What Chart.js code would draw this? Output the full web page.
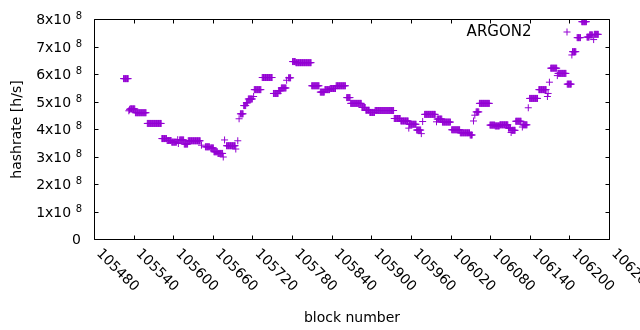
<!DOCTYPE html>
<html><head><meta charset="utf-8">
<script src="https://cdn.jsdelivr.net/npm/chart.js@4/dist/chart.umd.min.js"></script>
<style>html,body{margin:0;padding:0;background:#fff}#c{display:block}</style>
</head><body>
<canvas id="c" width="640" height="330"></canvas>
<script>
// ---- data: runs of blocks sharing one hashrate value ----
const seriesLabel = 'ARGON2';
const runStart = [105524,105532,105533,105534,105542,105560,105582,105590,105597,105606,105607,105609,105616,105622,105642,105648,105656,105661,105667,105675,105677,105680,105694,105697,105699,105701,105706,105710,105713,105721,105722,105734,105751,105759,105763,105771,105774,105780,105785,105809,105822,105829,105837,105846,105862,105868,105885,105891,105897,105905,105934,105944,105956,105957,105968,105975,105977,105980,105998,105999,106007,106021,106034,106049,106054,106056,106058,106063,106079,106087,106094,106107,106111,106112,106118,106128,106129,106137,106139,106153,106166,106167,106169,106171,106181,106182,106196,106203,106204,106211,106218,106226,106230,106236,106237];
const runEnd   = [105531,105532,105533,105541,105558,105581,105589,105596,105604,105606,105607,105615,105621,105640,105642,105654,105660,105666,105674,105675,105677,105693,105694,105697,105699,105705,105709,105712,105719,105721,105732,105749,105758,105762,105770,105771,105777,105784,105808,105820,105828,105836,105845,105860,105867,105884,105890,105896,105904,105933,105943,105955,105956,105967,105974,105975,105977,105996,105998,106006,106019,106033,106048,106052,106054,106056,106062,106078,106086,106093,106106,106110,106111,106117,106126,106128,106135,106137,106151,106164,106166,106167,106169,106180,106181,106194,106202,106203,106209,106216,106225,106229,106234,106236,106243];
const runValue = [5.85e8,4.68e8,4.72e8,4.75e8,4.61e8,4.22e8,3.67e8,3.60e8,3.54e8,3.63e8,3.49e8,3.62e8,3.47e8,3.59e8,3.43e8,3.37e8,3.33e8,3.19e8,3.13e8,3.00e8,3.62e8,3.41e8,3.29e8,3.59e8,4.39e8,4.57e8,4.87e8,4.97e8,5.11e8,5.20e8,5.45e8,5.89e8,5.31e8,5.41e8,5.51e8,5.79e8,5.88e8,6.47e8,6.43e8,5.59e8,5.36e8,5.45e8,5.49e8,5.59e8,5.16e8,4.95e8,4.80e8,4.70e8,4.62e8,4.69e8,4.40e8,4.31e8,4.05e8,4.19e8,3.98e8,3.85e8,4.29e8,4.55e8,4.28e8,4.38e8,4.27e8,3.99e8,3.88e8,3.80e8,4.31e8,4.52e8,4.64e8,4.95e8,4.16e8,4.13e8,4.17e8,4.05e8,3.89e8,3.97e8,4.30e8,4.09e8,4.17e8,4.79e8,5.13e8,5.45e8,5.20e8,5.31e8,5.72e8,6.23e8,5.96e8,6.04e8,5.65e8,6.71e8,6.83e8,7.34e8,7.92e8,7.36e8,7.44e8,7.27e8,7.46e8];
const xTickValues = [105480,105540,105600,105660,105720,105780,105840,105900,105960,106020,106080,106140,106200,106260];
const yTickValues = [0,1e8,2e8,3e8,4e8,5e8,6e8,7e8,8e8];
const yTickBase = ['0','1x10','2x10','3x10','4x10','5x10','6x10','7x10','8x10'];
const yTickExp  = ['','8','8','8','8','8','8','8','8'];
const xTitle = 'block number';
const yTitle = 'hashrate [h/s]';

const points = [];
runStart.forEach((s, i) => { for (let b = s; b <= runEnd[i]; b++) points.push({x: b, y: runValue[i]}); });

const FONT = 'DejaVu Sans';
const COLOR = '#9400d3';
Chart.defaults.font.family = FONT;
Chart.defaults.font.size = 14;
Chart.defaults.color = '#000';

const crisp = v => Math.round(v - 0.5) + 0.5;

const gnuplotFrame = {
  id: 'gnuplotFrame',
  afterDraw(chart) {
    const {ctx, chartArea: a, scales: {x, y}} = chart;
    ctx.save();
    ctx.strokeStyle = '#000';
    ctx.lineWidth = 1;
    ctx.beginPath();
    ctx.rect(a.left, a.top, a.right - a.left, a.bottom - a.top);
    xTickValues.forEach(v => {
      const px = crisp(x.getPixelForValue(v));
      ctx.moveTo(px, a.bottom); ctx.lineTo(px, a.bottom - 4);
      ctx.moveTo(px, a.top); ctx.lineTo(px, a.top + 4);
    });
    yTickValues.forEach(v => {
      const py = crisp(y.getPixelForValue(v));
      ctx.moveTo(a.left, py); ctx.lineTo(a.left + 4, py);
      ctx.moveTo(a.right, py); ctx.lineTo(a.right - 4, py);
    });
    ctx.stroke();
    ctx.fillStyle = '#000';
    // y tick labels with raised exponent
    ctx.textAlign = 'right';
    ctx.textBaseline = 'alphabetic';
    yTickValues.forEach((v, i) => {
      const py = y.getPixelForValue(v);
      const right = a.left - 12.5;
      if (yTickExp[i]) {
        ctx.font = '10px "' + FONT + '"';
        ctx.fillText(yTickExp[i], right, py - 0.5);
        const ew = ctx.measureText(yTickExp[i]).width;
        ctx.font = '14px "' + FONT + '"';
        ctx.fillText(yTickBase[i], right - ew - 4.5, py + 4.5);
      } else {
        ctx.font = '14px "' + FONT + '"';
        ctx.fillText(yTickBase[i], right - 1, py + 4.5);
      }
    });
    // rotated x tick labels
    ctx.font = '14px "' + FONT + '"';
    ctx.textAlign = 'left';
    ctx.textBaseline = 'middle';
    xTickValues.forEach(v => {
      const px = x.getPixelForValue(v);
      ctx.save();
      ctx.translate(px + 4, a.bottom + 12);
      ctx.rotate(Math.PI / 4);
      ctx.fillText(String(v), 0, 0);
      ctx.restore();
    });
    // key (text then sample, gnuplot style)
    const ky = a.top + 12.5;
    ctx.font = '15px "' + FONT + '"';
    ctx.textAlign = 'right';
    ctx.fillText(seriesLabel, a.right - 78, ky);
    const kx = a.right - 42.5;
    ctx.strokeStyle = COLOR;
    ctx.beginPath();
    ctx.moveTo(kx - 3.5, ky); ctx.lineTo(kx + 3.5, ky);
    ctx.moveTo(kx, ky - 3.5); ctx.lineTo(kx, ky + 3.5);
    ctx.stroke();
    ctx.restore();
  }
};

new Chart(document.getElementById('c'), {
  type: 'scatter',
  data: { datasets: [{
    label: seriesLabel,
    data: points,
    pointStyle: 'cross',
    pointRadius: 3.5,
    pointBorderWidth: 1,
    borderColor: COLOR,
    backgroundColor: COLOR,
    showLine: false
  }]},
  options: {
    responsive: false,
    animation: false,
    events: [],
    devicePixelRatio: 1,
    layout: { padding: { left: 0, right: 30.5, top: 19.5, bottom: 0 } },
    plugins: { legend: { display: false }, tooltip: { enabled: false } },
    scales: {
      x: {
        type: 'linear', min: 105480, max: 106260,
        afterBuildTicks: s => { s.ticks = xTickValues.map(v => ({value: v})); },
        ticks: { display: false },
        grid: { display: false, drawTicks: false },
        border: { display: false },
        title: { display: true, text: xTitle, font: { size: 14 }, padding: { top: 0, bottom: 3 } },
        afterFit: s => { s.height = 90.5; }
      },
      y: {
        type: 'linear', min: 0, max: 8e8,
        afterBuildTicks: s => { s.ticks = yTickValues.map(v => ({value: v})); },
        ticks: { display: false },
        grid: { display: false, drawTicks: false },
        border: { display: false },
        title: { display: true, text: yTitle, font: { size: 14 }, padding: { top: 8.5, bottom: 0 } },
        afterFit: s => { s.height; s.width = 94.5; }
      }
    }
  },
  plugins: [gnuplotFrame]
});
</script>
</body></html>
